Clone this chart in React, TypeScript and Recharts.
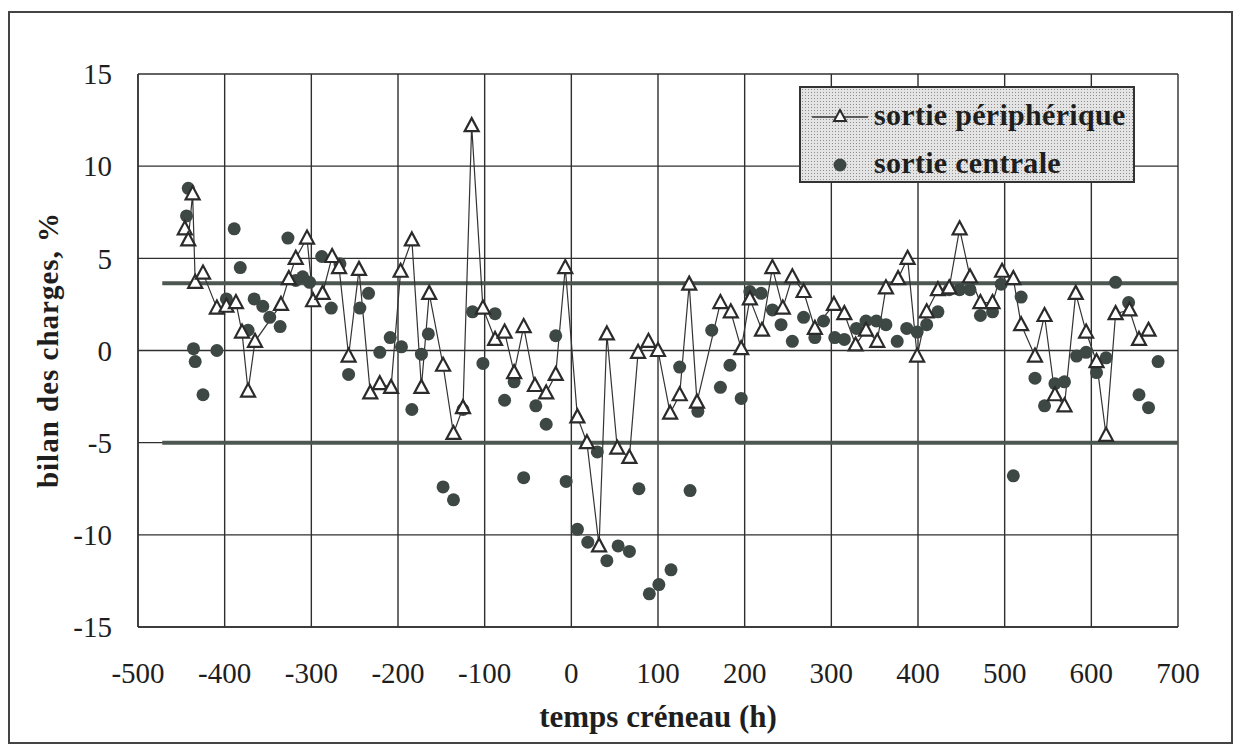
import React from "react";
import {
  ComposedChart,
  Line,
  Scatter,
  XAxis,
  YAxis,
  CartesianGrid,
} from "recharts";

// sortie périphérique (triangles reliés)
const periphX = [
  -446, -442, -437, -434, -425, -409, -398, -387, -380, -373, -365, -335, -326, -318, -305, -298,
  -287, -276, -268, -257, -245, -232, -221, -208, -197, -184, -173, -164, -148, -136, -125, -115,
  -102, -88, -77, -66, -55, -42, -29, -18, -7, 7, 18, 32, 41, 53, 67, 77, 89, 100, 114, 125, 136,
  145, 172, 184, 196, 206, 220, 232, 244, 255, 268, 281, 303, 315, 328, 340, 353, 363, 377, 388,
  399, 410, 423, 436, 448, 460, 472, 486, 497, 510, 519, 535, 546, 558, 569, 582, 594, 606, 617,
  628, 644, 655, 666,
];
const periphY = [
  6.6, 6.0, 8.5, 3.7, 4.2, 2.3, 2.4, 2.6, 1.0, -2.2, 0.5, 2.5, 3.9, 5.0, 6.1, 2.7,
  3.1, 5.1, 4.5, -0.3, 4.4, -2.3, -1.8, -2.0, 4.3, 6.0, -2.0, 3.1, -0.8, -4.5, -3.1, 12.2,
  2.3, 0.6, 1.0, -1.2, 1.3, -1.9, -2.3, -1.3, 4.5, -3.6, -5.0, -10.6, 0.9, -5.3, -5.8, -0.1, 0.5,
  0.0, -3.4, -2.4, 3.6, -2.8, 2.6, 2.1, 0.1, 2.8, 1.1, 4.5, 2.3, 4.0, 3.2, 1.2, 2.5, 2.0, 0.3,
  1.1, 0.5, 3.4, 3.9, 5.0, -0.3, 2.1, 3.3, 3.4, 6.6, 4.0, 2.6, 2.6, 4.3, 3.9, 1.4, -0.3, 1.9,
  -2.4, -3.0, 3.1, 1.0, -0.6, -4.6, 2.0, 2.2, 0.6, 1.1,
];

// sortie centrale (points seuls)
const centralX = [
  -444, -442, -436, -434, -425, -409, -398, -389, -382, -373, -366, -356, -348, -336, -327, -318,
  -310, -302, -288, -277, -267, -257, -244, -234, -221, -209, -196, -184, -173, -165, -148, -136,
  -125, -114, -102, -88, -77, -66, -55, -41, -29, -18, -6, 7, 19, 30, 41, 54, 67, 78, 90, 101,
  115, 125, 137, 146, 162, 172, 183, 196, 206, 219, 232, 242, 255, 268, 281, 291, 304, 315, 329,
  340, 352, 363, 376, 387, 399, 410, 423, 436, 448, 460, 472, 486, 496, 510, 519, 535, 546, 558,
  569, 583, 594, 606, 617, 628, 643, 655, 666, 677,
];
const centralY = [
  7.3, 8.8, 0.1, -0.6, -2.4, 0.0, 2.8, 6.6, 4.5, 1.1, 2.8, 2.4, 1.8, 1.3, 6.1, 3.8,
  4.0, 3.7, 5.1, 2.3, 4.7, -1.3, 2.3, 3.1, -0.1, 0.7, 0.2, -3.2, -0.2, 0.9, -7.4, -8.1,
  -3.2, 2.1, -0.7, 2.0, -2.7, -1.7, -6.9, -3.0, -4.0, 0.8, -7.1, -9.7, -10.4, -5.5, -11.4, -10.6,
  -10.9, -7.5, -13.2, -12.7, -11.9, -0.9, -7.6, -3.3, 1.1, -2.0, -0.8, -2.6, 3.2, 3.1, 2.2, 1.4,
  0.5, 1.8, 0.7, 1.6, 0.7, 0.6, 1.2, 1.6, 1.6, 1.4, 0.5, 1.2, 1.0, 1.4, 2.1, 3.3, 3.3, 3.3,
  1.9, 2.1, 3.6, -6.8, 2.9, -1.5, -3.0, -1.8, -1.7, -0.3, -0.1, -1.2, -0.4, 3.7, 2.6, -2.4,
  -3.1, -0.6,
];

// droites de seuil
const seuilX = [-472, 700];
const seuilHaut = [3.65, 3.65];
const seuilBas = [-5, -5];

const xTicks = [-500, -400, -300, -200, -100, 0, 100, 200, 300, 400, 500, 600, 700];
const yTicks = [-15, -10, -5, 0, 5, 10, 15];

const periphData = periphX.map((x, i) => ({ x, y: periphY[i] }));
const centralData = centralX.map((x, i) => ({ x, y: centralY[i] }));
const hautData = seuilX.map((x, i) => ({ x, y: seuilHaut[i] }));
const basData = seuilX.map((x, i) => ({ x, y: seuilBas[i] }));

const FONT = "'Liberation Serif', 'Times New Roman', serif";
const INK = "#1e1e1e";
const DOT = "#3d4743";

// triangle creux pour la série périphérique
const TriangleDot = (props: any) => {
  const { cx, cy, index } = props;
  if (cx == null || cy == null) return <g key={index} />;
  return (
    <path
      key={index}
      d={`M${cx},${cy - 7.5} L${cx + 7},${cy + 5.5} L${cx - 7},${cy + 5.5} Z`}
      fill="#fff"
      stroke="#2b2b2b"
      strokeWidth={2.2}
    />
  );
};

const CircleDot = (props: any) => {
  const { cx, cy } = props;
  return <circle cx={cx} cy={cy} r={6.5} fill={DOT} />;
};

export default function App() {
  return (
    <div style={{ position: "relative", width: 1229, height: 738, fontFamily: FONT }}>
      <ComposedChart
        width={1229}
        height={738}
        margin={{ top: 66, right: 59, bottom: 29, left: 70 }}
      >
        <CartesianGrid stroke="#2f2f2f" strokeWidth={1.4} />
        <XAxis
          type="number"
          dataKey="x"
          domain={[-500, 700]}
          ticks={xTicks}
          allowDataOverflow
          height={90}
          tickSize={0}
          tickMargin={35}
          axisLine={{ stroke: "#2f2f2f", strokeWidth: 1.4 }}
          tick={{ fill: INK, fontSize: 29, fontFamily: FONT }}
        />
        <YAxis
          type="number"
          dataKey="y"
          domain={[-15, 15]}
          ticks={yTicks}
          allowDataOverflow
          width={60}
          tickSize={0}
          tickMargin={26}
          axisLine={{ stroke: "#2f2f2f", strokeWidth: 1.4 }}
          tick={{ fill: INK, fontSize: 29, fontFamily: FONT }}
        />
        <Line
          data={hautData}
          dataKey="y"
          stroke="#4d5752"
          strokeWidth={4}
          dot={false}
          isAnimationActive={false}
        />
        <Line
          data={basData}
          dataKey="y"
          stroke="#4d5752"
          strokeWidth={4}
          dot={false}
          isAnimationActive={false}
        />
        <Scatter data={centralData} dataKey="y" shape={CircleDot} isAnimationActive={false} />
        <Line
          data={periphData}
          dataKey="y"
          stroke="#333"
          strokeWidth={1.2}
          dot={TriangleDot}
          activeDot={false}
          isAnimationActive={false}
        />
      </ComposedChart>

      {/* cadre */}
      <div
        style={{
          position: "absolute",
          left: 0,
          top: 3,
          width: 1225,
          height: 733,
          boxSizing: "border-box",
          border: "2px solid #444",
          pointerEvents: "none",
        }}
      />

      {/* légende */}
      <div
        style={{
          position: "absolute",
          left: 791,
          top: 78,
          width: 336,
          height: 97,
          boxSizing: "border-box",
          border: "2px solid #333",
          backgroundColor: "#e4e4e4",
          backgroundImage: "radial-gradient(#8e8e8e 0.7px, transparent 0.9px)",
          backgroundSize: "3px 3px",
        }}
      >
        <div style={{ position: "absolute", left: 11, top: 10, display: "flex", alignItems: "center" }}>
          <svg width={56} height={30}>
            <line x1={0} y1={17} x2={56} y2={17} stroke="#333" strokeWidth={1.3} />
            <path d="M28,10 L34,21 L22,21 Z" fill="#fff" stroke="#2b2b2b" strokeWidth={2} />
          </svg>
          <span style={{ marginLeft: 6, fontSize: 30, fontWeight: "bold", color: INK, letterSpacing: 0.3 }}>
            sortie périphérique
          </span>
        </div>
        <div style={{ position: "absolute", left: 11, top: 58, display: "flex", alignItems: "center" }}>
          <svg width={56} height={30}>
            <circle cx={28} cy={17} r={6.5} fill={DOT} />
          </svg>
          <span style={{ marginLeft: 6, fontSize: 30, fontWeight: "bold", color: INK, letterSpacing: 0.3 }}>
            sortie centrale
          </span>
        </div>
      </div>

      {/* titres des axes */}
      <div
        style={{
          position: "absolute",
          left: 450,
          top: 691,
          width: 400,
          textAlign: "center",
          fontSize: 31,
          fontWeight: "bold",
          color: INK,
          lineHeight: "36px",
        }}
      >
        temps créneau (h)
      </div>
      <div
        style={{
          position: "absolute",
          left: -160,
          top: 324,
          width: 400,
          height: 36,
          lineHeight: "36px",
          textAlign: "center",
          transform: "rotate(-90deg)",
          fontSize: 29,
          fontWeight: "bold",
          color: INK,
          letterSpacing: 1,
        }}
      >
        bilan des charges, %
      </div>
    </div>
  );
}
